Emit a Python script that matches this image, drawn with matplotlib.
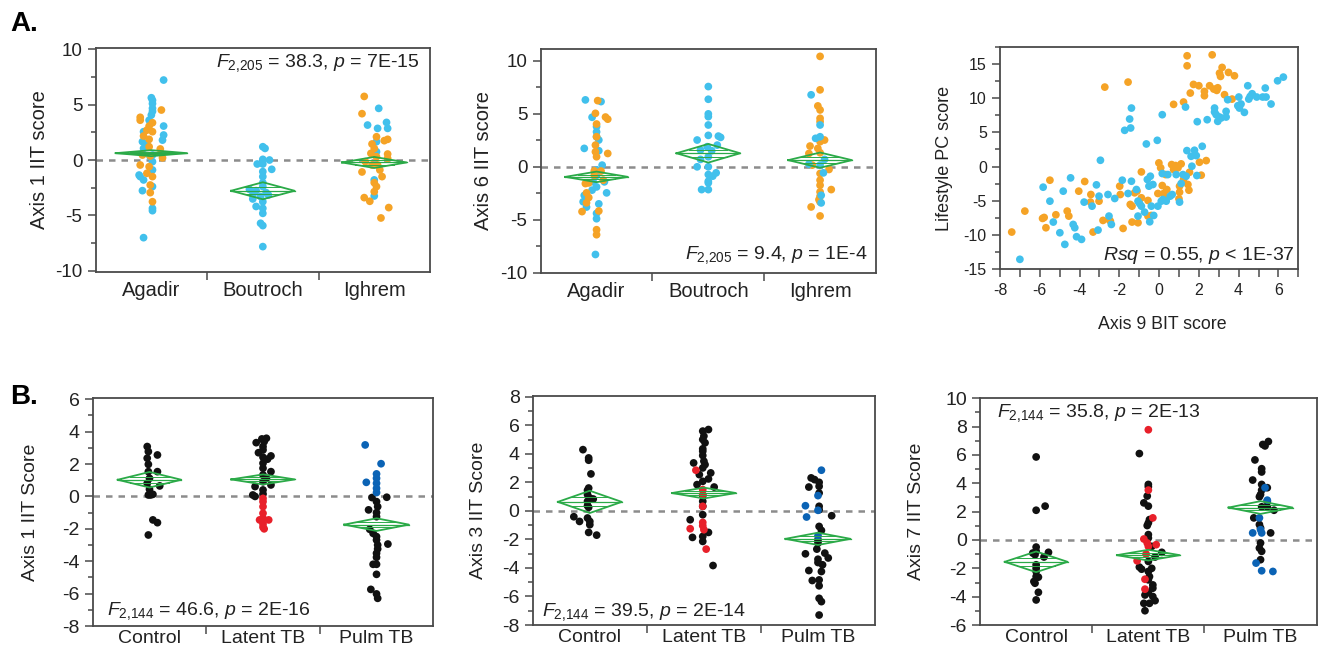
import matplotlib
matplotlib.use("Agg")
import matplotlib.pyplot as plt
from matplotlib.ticker import MultipleLocator, FixedLocator

plt.rcParams['font.family'] = ['Liberation Sans', 'DejaVu Sans']
plt.rcParams['mathtext.fontset'] = 'custom'
plt.rcParams['mathtext.rm'] = 'Liberation Sans'
plt.rcParams['mathtext.it'] = 'Liberation Sans:italic'
plt.rcParams['axes.unicode_minus'] = False

CYAN = '#41C0EC'
ORANGE = '#F5A326'
BLACK = '#111111'
RED = '#E8202A'
BLUE = '#0B63B5'
GREEN = '#2BAA48'
SPINE = '#4a4a4a'
TXT = '#222222'

# ---------------- data (offset from group centre, value) ----------------
SITES = ['Agadir', 'Boutroch', 'Ighrem']
TB_GROUPS = ['Control', 'Latent TB', 'Pulm TB']

# A1: Axis 1 IIT score
A1_AGADIR_CYAN = [(0.11, 7.23), (0, 5.63), (0.01, 5.1), (0.01, 4.67), (0, 4.07), (0.11, 3.07),
                  (0.11, 2.26), (0.1, 1.8), (-0.08, 1.66), (-0.04, 1.5), (-0.07, 1.05), (0.01, 0.45),
                  (-0.11, -1.36), (-0.1, -1.5), (-0.07, -1.8), (0.01, -0.9), (0.01, -2.4),
                  (-0.08, -2.77), (0.01, -4.37), (0.01, -4.58), (-0.07, -7.02), (0.01, -0.15),
                  (-0.01, 0.3), (-0.07, 2.56), (-0.02, 3.6), (0.01, 5.4), (0.01, 4.4)]
A1_AGADIR_ORANGE = [(0.09, 4.52), (-0.1, 3.86), (-0.1, 3.6), (-0.02, 3.07), (0.01, 3.37), (-0.04, 2.7),
                    (-0.07, 2.17), (0.01, 2.56), (-0.02, 1.87), (-0.02, 1.2), (0.08, 1.0), (-0.01, 0.36),
                    (-0.08, 0.45), (0.1, 0.2), (-0.1, -0.45), (-0.04, -1.2), (0.01, -1.5),
                    (-0.01, -2.26), (-0.01, -2.95), (0.01, -3.77), (-0.02, -0.6)]
A1_BOUTROCH_CYAN = [(0, 1.2), (0.02, 1.05), (0, 0.06), (0.06, 0.0), (-0.05, -0.36), (0, -0.36),
                    (0.08, -0.84), (0, -1.05), (0, -1.5), (0, -2.05), (0, -2.4), (-0.12, -2.65),
                    (-0.06, -2.77), (0.03, -2.95), (0.05, -3.16), (-0.09, -3.52), (0, -3.77),
                    (-0.06, -4.2), (0, -4.37), (0, -4.82), (-0.02, -5.72), (0, -5.93), (0, -7.83),
                    (-0.09, -3.16), (-0.02, -3.3)]
A1_IGHREM_ORANGE = [(-0.09, 5.75), (-0.11, 4.19), (0.02, 2.1), (0.09, 1.75), (0.12, 1.87), (-0.02, 1.45),
                    (0, 1.05), (-0.03, 0.6), (0.12, 0.54), (0.02, 0.3), (0.12, 0.15), (-0.08, -0.15),
                    (0.03, -0.45), (0.05, -0.9), (-0.11, -1.08), (0.07, -1.5), (0, -2.05),
                    (0.02, -2.4), (0, -2.86), (-0.09, -3.4), (-0.04, -3.73), (0.13, -4.3),
                    (0.06, -5.24), (-0.02, -0.45)]
A1_IGHREM_CYAN = [(0.04, 4.67), (-0.06, 3.16), (0.03, 2.86), (0.11, 3.4), (0.12, 2.86), (0.02, 1.66),
                  (0, -1.8), (0, -3.25), (0.02, 0.75)]
A1_MEANS = [0.62, -2.78, -0.22]
A1_CI = [0.27, 0.77, 0.5]
A1_HALFW = [0.32, 0.285, 0.29]

# A2: Axis 6 IIT score
A2_AGADIR_CYAN = [(-0.1, 6.32), (0.04, 6.16), (-0.04, 4.68), (-0.11, 1.74), (0, 3.8), (0, 3.3),
                  (0, 2.84), (0.02, 2.53), (0.02, 1.52), (0.05, 0.16), (0, -0.3), (0, -0.8),
                  (-0.03, -1.42), (0, -1.9), (0.07, -1.42), (0.09, -2.46), (-0.11, -2.7),
                  (-0.12, -3.3), (-0.09, -3.8), (0.02, -3.5), (0, -4.4), (0, -4.9), (-0.01, -8.28),
                  (-0.04, -2.2)]
A2_AGADIR_ORANGE = [(0.01, 6.25), (-0.01, 5.05), (0.08, 4.7), (0.1, 4.5), (0, 4.04), (0, 2.84),
                    (-0.01, 2.05), (0.1, 1.26), (-0.01, 1.42), (0, 0.95), (-0.02, -0.38), (0.04, -0.4),
                    (-0.1, -1.58), (-0.07, -1.52), (0.06, -1.26), (-0.09, -2.46), (-0.07, -2.9),
                    (-0.09, -3.4), (0.02, -4.17), (-0.13, -4.23), (0, -5.94), (0, -6.41),
                    (-0.02, -0.8)]
A2_BOUTROCH_CYAN = [(0, 7.58), (0, 6.38), (0, 5.0), (0, 4.74), (0, 3.95), (0, 2.97), (0.09, 2.9),
                    (0.11, 2.78), (-0.1, 2.53), (0.08, 2.05), (-0.01, 1.9), (-0.07, 1.58), (0.03, 1.52),
                    (-0.07, 0.7), (0, 0.95), (-0.1, 0), (0, 0), (0.07, -0.57), (0.04, -0.88),
                    (0, -0.73), (0, -1.36), (0, -1.52), (-0.06, -2.15), (0, -2.15)]
A2_IGHREM_ORANGE = [(0, 10.43), (0, 7.27), (-0.02, 5.75), (0, 5.37), (0, 4.58), (0, 4.27), (0.04, 2.53),
                    (0, 2.37), (-0.09, 1.96), (-0.1, 1.26), (-0.02, 1.74), (0, 1.33), (-0.07, 0.16),
                    (0.08, -0.25), (0, -0.63), (0, -1.26), (0, -1.74), (0, -2.37), (0.1, -2.15),
                    (0, -2.78), (-0.01, -3.1), (0, -3.32), (-0.08, -3.79), (0, -4.64)]
A2_IGHREM_CYAN = [(-0.08, 6.8), (0, 3.95), (-0.04, 2.69), (0, 2.84), (-0.1, 0.25), (0, 0.16),
                  (0.04, 0.7), (0.03, -0.57), (0.01, -2.69), (0.01, -3.41)]
A2_MEANS = [-0.95, 1.28, 0.63]
A2_CI = [0.5, 0.88, 0.72]
A2_HALFW = [0.28, 0.285, 0.285]

# A3: Axis 9 BIT score vs Lifestyle PC score
A3_ORANGE_X = [-7.41, -6.75, -5.86, -5.78, -5.69, -5.49, -5.19, -4.62, -4.54, -4.04, -3.74, -3.45,
               -3.43, -3.32, -3.02, -2.82, -2.73, -2.52, -2.45, -1.98, -1.95, -1.81, -1.56, -1.45,
               -1.36, -1.36, -1.23, -1.11, -1.06, -0.89, -0.89, -0.56, -0.56, -0.39, -0.06, -0.01,
               0.08, 0.16, 0.23, 0.29, 0.39, 0.33, 0.63, 0.73, 0.73, 0.83, 0.95, 1.03, 1.03, 1.0,
               1.11, 1.23, 1.23, 1.41, 1.41, 1.45, 1.5, 1.53, 1.57, 1.73, 2.0, 2.03, 2.12, 2.28,
               2.28, 2.37, 2.54, 2.67, 2.75, 2.9, 3.04, 3.09, 3.17, 3.29, 3.49, 3.67, 3.79, 2.95]
A3_ORANGE_Y = [-9.56, -6.5, -7.57, -7.43, -8.93, -1.99, -7.04, -6.5, -7.23, -3.59, -2.18, -5.19,
               -4.08, -9.56, -5.05, -7.86, 11.6, -7.72, -7.96, -2.86, -4.08, -9.03, 12.33, -5.53,
               -5.78, -8.1, -3.83, -3.59, -8.2, -0.78, -4.56, -4.95, -7.23, -7.14, -3.93, 0.53,
               -0.19, -2.77, -3.93, -4.32, -3.35, -1.17, 0.29, -0.44, 9.08, 0.15, -0.19, -2.86,
               -3.74, -4.71, 0.39, 9.42, -1.89, 16.17, 14.71, -2.62, -3.45, -0.83, 10.73, 11.99,
               11.8, 0.63, -1.26, 10.97, 10.34, 0.87, 11.8, 16.31, 11.31, 11.12, 13.64, 13.16,
               14.47, 10.49, 13.74, 9.85, 13.25, 11.5]
A3_CYAN_X = [-7.0, -5.83, -5.49, -5.32, -4.99, -4.82, -4.74, -4.45, -4.32, -4.24, -4.15, -3.9, -3.77,
             -3.37, -3.15, -3.07, -3.02, -2.95, -2.57, -2.52, -2.4, -2.23, -1.85, -1.73, -1.56,
             -1.48, -1.43, -1.39, -1.39, -1.14, -1.06, -1.06, -0.98, -0.89, -0.73, -0.64, -0.59,
             -0.51, -0.44, -0.47, -0.39, -0.31, -0.27, -0.09, -0.06, 0.11, 0.16, 0.16, 0.19, 0.36,
             0.44, 0.56, 0.66, 0.86, 1.03, 1.11, 1.2, 1.33, 1.36, 1.4, 1.61, 1.65, 1.78, 1.87, 1.9,
             1.92, 2.17, 2.42, 2.79, 2.79, 2.87, 2.95, 3.04, 3.12, 3.37, 3.37, 3.45, 3.96, 4.01,
             4.04, 4.12, 4.29, 4.46, 4.51, 4.58, 4.68, 4.91, 5.21, 5.38, 5.34, 5.63, 5.96, 6.25]
A3_CYAN_Y = [-13.54, -3.01, -5.05, -8.1, -9.66, -3.59, -11.36, -1.65, -8.45, -8.93, -10.24, -10.63,
             -5.19, -5.78, -2.67, -9.27, -4.32, 0.92, -4.08, -7.23, -8.45, -4.66, -1.99, 5.29,
             -3.93, 6.94, 5.63, 8.54, -2.14, -3.35, -5.05, -7.23, -5.39, -5.78, -6.65, 3.3, -1.89,
             -2.86, -1.41, -8.06, -5.78, -2.62, -7.14, 3.83, -5.78, -5.05, 7.57, -1.02, -4.81,
             -5.05, -1.17, -4.32, -4.08, -1.17, -5.19, -2.48, -1.17, 8.69, -1.41, 2.33, 1.5, 0.05,
             2.38, 1.6, -1.31, 6.55, 2.96, 6.84, 8.54, 7.96, 7.57, 6.6, 7.23, 7.09, 8.06, 7.23,
             9.76, 8.88, 10.15, 8.54, 9.13, 7.91, 11.8, 9.85, 10.24, 10.63, 10.15, 10.15, 10.15,
             11.46, 9.13, 12.52, 13.06]

# B1: Axis 1 IIT Score
B1_CONTROL_BLACK = [(-0.02, 3.08), (-0.01, 2.77), (-0.02, 2.36), (0.07, 2.56), (-0.01, 1.98),
                    (-0.01, 1.53), (0.07, 1.53), (0, 1.12), (-0.02, 0.81), (0.09, 0.65), (0, 0.44),
                    (-0.01, 0.09), (0.01, 0.09), (0.03, 0.13), (0.03, -1.45), (0.07, -1.62),
                    (-0.01, -2.38)]
B1_LATENT_BLACK = [(-0.06, 3.32), (-0.01, 3.55), (0.03, 3.59), (0.01, 3.38), (0, 3.08), (0, 2.87),
                   (-0.04, 2.7), (0.07, 2.5), (0, 2.42), (0.04, 2.3), (0, 2.05), (0, 1.74), (0.07, 1.53),
                   (0, 1.33), (0.03, 1.12), (0, 0.91), (0.07, 0.71), (-0.07, 0.61), (0, 0.4),
                   (-0.09, 0.09), (-0.07, 0.0), (0, 0.15)]
B1_LATENT_RED = [(0, -0.12), (0, -0.32), (0, -0.63), (0, -1.04), (0, -1.35), (0.05, -1.45),
                 (-0.03, -1.45), (0, -1.7), (0, -1.9), (0.01, -2.0)]
B1_PULM_BLUE = [(-0.1, 3.18), (0.04, 2.02), (-0.09, 0.87), (0, 1.39), (0, 1.12), (0, 0.81), (0, 0.5),
                (0, 0.24)]
B1_PULM_BLACK = [(-0.04, -0.07), (0.09, -0.05), (0, -0.32), (0.01, -0.63), (-0.07, -0.83), (0, -1.0),
                 (0, -1.25), (-0.06, -2.03), (-0.03, -2.28), (0, -2.48), (0, -2.69), (0.01, -3.0),
                 (0.1, -2.94), (0.01, -3.24), (0, -3.51), (0, -3.76), (-0.03, -4.19), (0, -4.19),
                 (0, -4.81), (-0.05, -5.74), (0, -6.02), (0.01, -6.29)]
B1_MEANS = [1.03, 1.05, -1.74]
B1_CI = [0.48, 0.31, 0.39]

# B2: Axis 3 IIT Score
B2_CONTROL_BLACK = [(-0.06, 4.29), (-0.01, 3.71), (-0.01, 3.55), (0.01, 2.59), (-0.01, 1.6),
                    (-0.02, 1.44), (-0.02, 1.14), (0, 0.9), (0.03, 0.83), (-0.02, 0.67), (-0.02, 0.36),
                    (-0.01, 0.25), (-0.14, -0.41), (-0.09, -0.74), (-0.02, -0.5), (0, -0.74),
                    (0, -0.97), (-0.01, -1.51), (0.06, -1.7)]
B2_LATENT_BLACK = [(0.04, 5.7), (-0.01, 5.59), (0, 5.24), (-0.01, 5.0), (0.01, 4.77), (-0.01, 4.35),
                   (-0.01, 4.18), (-0.01, 3.88), (-0.09, 3.36), (0, 3.48), (0.01, 3.24), (-0.01, 3.01),
                   (0.06, 2.66), (-0.04, 2.54), (0.04, 2.24), (-0.01, 2.07), (-0.06, 1.84),
                   (0.09, 1.67), (-0.01, 1.07), (-0.01, 0.67), (-0.01, 0.32), (-0.01, -0.27),
                   (-0.12, -0.62), (0.04, -1.51), (-0.01, -1.79), (-0.1, -1.86), (-0.01, -2.14),
                   (0.08, -3.83)]
B2_LATENT_RED = [(-0.07, 2.85), (-0.01, 1.49), (-0.01, 1.14), (-0.01, 0.32), (-0.01, -0.81),
                 (-0.01, -1.04), (0, -1.32), (-0.12, -1.25), (0.02, -2.68)]
B2_PULM_BLACK = [(-0.06, 2.31), (-0.03, 2.19), (0.01, 2.0), (0.01, 1.72), (-0.08, 1.67), (0.01, 1.25),
                 (0.01, 0.32), (0.01, 0.08), (0.12, -0.34), (0.01, -1.09), (0.03, -1.37), (0, -2.03),
                 (0, -2.26), (-0.01, -2.68), (0.06, -2.96), (-0.11, -3.01), (0, -3.39), (0, -3.62),
                 (0.04, -3.78), (0.03, -4.25), (-0.08, -4.18), (0.01, -4.84), (-0.05, -4.88),
                 (0.01, -5.25), (0.01, -6.13), (0.03, -6.36), (0.01, -7.3), (0.09, -3.3)]
B2_PULM_BLUE = [(0.03, 2.85), (-0.11, 0.36), (-0.1, -0.43), (0, 1.07), (0, 0.04), (0, -1.75)]
B2_MEANS = [0.63, 1.25, -1.96]
B2_CI = [0.78, 0.38, 0.43]

# B3: Axis 7 IIT Score
B3_CONTROL_BLACK = [(0, 5.86), (0, 2.1), (0.08, 2.39), (0, -0.5), (0, -0.8), (-0.01, -1.04),
                    (-0.03, -0.92), (0.11, -0.87), (0.07, -1.2), (0, -1.75), (0, -1.99), (0, -2.22),
                    (0, -2.58), (0.02, -2.62), (-0.02, -2.93), (-0.01, -3.05), (0.02, -3.69),
                    (0, -4.23)]
B3_LATENT_BLACK = [(-0.08, 6.1), (0, 3.92), (0, 3.76), (-0.01, 3.1), (-0.04, 2.62), (0, 2.39),
                   (0.01, 1.44), (0, 1.2), (-0.01, 1.02), (0, 0.38), (0, 0.14), (0.03, -0.45),
                   (0.12, -0.87), (0.06, -1.2), (0, -1.51), (-0.08, -1.91), (-0.06, -2.06), (0, -2.22),
                   (0.03, -2.0), (0.01, -2.58), (0, -2.81), (0.04, -3.17), (0.04, -3.4), (0, -3.71),
                   (-0.03, -3.88), (0.04, -3.99), (0.06, -4.28), (-0.04, -4.47), (-0.03, -4.99),
                   (0.01, -4.47)]
B3_LATENT_RED = [(0, 7.78), (0, 3.52), (0.04, 1.56), (-0.04, 0.07), (-0.01, -0.21), (0.07, -0.33),
                 (0, -0.45), (-0.02, -0.99), (-0.1, -1.47), (-0.03, -2.77), (-0.03, -3.47)]
B3_PULM_BLACK = [(0.07, 6.95), (0.02, 6.74), (0.04, 6.64), (-0.05, 5.65), (0.01, 5.03), (0.01, 4.8),
                 (-0.07, 4.23), (0.01, 3.92), (0.06, 3.69), (0.01, 3.52), (0, 3.21), (-0.01, 3.05),
                 (0.06, 2.74), (0.01, 2.34), (0.06, 2.34), (0.12, 2.1), (-0.06, 1.56), (-0.01, 1.09),
                 (0, 0.85), (0.09, 0.5), (0, -0.21), (-0.01, -0.57), (0.01, -0.8), (0, -1.39)]
B3_PULM_BLUE = [(0.04, 3.69), (0.06, 2.81), (-0.01, 1.56), (0, 0.73), (-0.07, 0.5), (0.01, 0.5),
                (-0.04, -1.63), (0.01, -2.17), (0.11, -2.22)]
B3_MEANS = [-1.54, -1.07, 2.29]
B3_CI = [0.73, 0.38, 0.45]
B_HALFW = [0.28, 0.28, 0.285]

DOT = 31


def draw_group(ax, pos, pts, color):
    ax.scatter([pos + o for o, v in pts], [v for o, v in pts], s=DOT, color=color,
               edgecolors='none', zorder=3)


def diamonds(ax, means, ci, halfw):
    for i, (m, h, w) in enumerate(zip(means, ci, halfw)):
        x = i + 1
        ax.plot([x - w, x, x + w, x, x - w], [m, m + h, m, m - h, m], color=GREEN, lw=1.3, zorder=4)
        ax.plot([x - w, x + w], [m, m], color=GREEN, lw=0.9, zorder=4)
        for s in (1, -1):
            ax.plot([x - 0.6 * w, x + 0.6 * w], [m + s * 0.4 * h] * 2, color=GREEN, lw=0.7, zorder=4)


def frame(ax):
    for sp in ax.spines.values():
        sp.set_color(SPINE)
        sp.set_linewidth(1.3)
    ax.tick_params(which='both', color=SPINE, width=1.1, labelcolor=TXT)


def stat_label(f, df, p, comp='='):
    # F statistic with small subscript degrees of freedom
    return r'$F_{\mathregular{' + df + '}}$ = ' + f + r', $p$ ' + comp + ' ' + p


def cat_axis(ax, labels, ylim, minor, ylabel, fs_tick, fs_lab, xlab, pad=7):
    ax.set_xlim(0.5, 3.5)
    ax.set_ylim(*ylim)
    ax.set_xticks([1, 2, 3])
    ax.set_xticklabels(labels, fontsize=fs_lab)
    ax.xaxis.set_minor_locator(FixedLocator([1.5, 2.5]))
    ax.tick_params(axis='x', which='major', length=0, pad=pad)
    ax.tick_params(axis='x', which='minor', length=6)
    ax.yaxis.set_minor_locator(MultipleLocator(minor))
    ax.tick_params(axis='y', which='major', length=6, labelsize=fs_tick)
    ax.tick_params(axis='y', which='minor', length=3.5)
    ax.set_ylabel(ylabel, fontsize=fs_lab, color=TXT)
    ax.yaxis.set_label_coords(xlab, 0.5)
    ax.axhline(0, color='#8c8c8c', lw=1.8, ls=(0, (2.6, 2.4)), zorder=1)
    frame(ax)


fig = plt.figure(figsize=(13.21, 6.51), dpi=100)

# ---- A1 ----
ax = fig.add_axes([0.0724, 0.5826, 0.2531, 0.3432])
draw_group(ax, 1, A1_AGADIR_CYAN, CYAN)
draw_group(ax, 1, A1_AGADIR_ORANGE, ORANGE)
draw_group(ax, 2, A1_BOUTROCH_CYAN, CYAN)
draw_group(ax, 3, A1_IGHREM_CYAN, CYAN)
draw_group(ax, 3, A1_IGHREM_ORANGE, ORANGE)
diamonds(ax, A1_MEANS, A1_CI, A1_HALFW)
ax.set_yticks([-10, -5, 0, 5, 10])
cat_axis(ax, SITES, (-10.1, 10.1), 2.5, 'Axis 1 IIT score', 13.5, 14.5, -0.14)
ax.text(0.97, 0.935, stat_label('38.3', '2{,}205', '7E-15'), transform=ax.transAxes,
        ha='right', va='center', fontsize=14, color=TXT)

# ---- A2 ----
ax = fig.add_axes([0.4093, 0.5811, 0.2538, 0.3432])
draw_group(ax, 1, A2_AGADIR_CYAN, CYAN)
draw_group(ax, 1, A2_AGADIR_ORANGE, ORANGE)
draw_group(ax, 2, A2_BOUTROCH_CYAN, CYAN)
draw_group(ax, 3, A2_IGHREM_ORANGE, ORANGE)
draw_group(ax, 3, A2_IGHREM_CYAN, CYAN)
diamonds(ax, A2_MEANS, A2_CI, A2_HALFW)
ax.set_yticks([-10, -5, 0, 5, 10])
cat_axis(ax, SITES, (-10, 11.1), 2.5, 'Axis 6 IIT score', 13.5, 14.5, -0.142)
ax.text(0.975, 0.08, stat_label('9.4', '2{,}205', '1E-4'), transform=ax.transAxes,
        ha='right', va='center', fontsize=14, color=TXT)

# ---- A3 ----
ax = fig.add_axes([0.757, 0.5863, 0.2258, 0.342])
ax.scatter(A3_ORANGE_X, A3_ORANGE_Y, s=DOT, color=ORANGE, edgecolors='none', zorder=3)
ax.scatter(A3_CYAN_X, A3_CYAN_Y, s=DOT, color=CYAN, edgecolors='none', zorder=3)
ax.set_xlim(-8, 7)
ax.set_ylim(-15, 17.5)
ax.set_xticks([-8, -6, -4, -2, 0, 2, 4, 6])
ax.set_yticks([-15, -10, -5, 0, 5, 10, 15])
ax.xaxis.set_minor_locator(MultipleLocator(1))
ax.yaxis.set_minor_locator(MultipleLocator(2.5))
ax.tick_params(which='both', labelsize=11.5)
ax.tick_params(axis='x', which='both', length=6)
ax.tick_params(axis='y', which='major', length=6)
ax.tick_params(axis='y', which='minor', length=3.5)
ax.set_xlabel('Axis 9 BIT score', fontsize=12.8, color=TXT)
ax.xaxis.set_label_coords(0.545, -0.208)
ax.set_ylabel('Lifestyle PC score', fontsize=13, color=TXT)
ax.yaxis.set_label_coords(-0.158, 0.5)
frame(ax)
ax.text(0.99, 0.064, r'$Rsq$ = 0.55, $p$ < 1E-37', transform=ax.transAxes,
        ha='right', va='center', fontsize=14, color=TXT)

# ---- B1 ----
ax = fig.add_axes([0.0702, 0.0384, 0.2578, 0.3498])
draw_group(ax, 1, B1_CONTROL_BLACK, BLACK)
draw_group(ax, 2, B1_LATENT_BLACK, BLACK)
draw_group(ax, 2, B1_LATENT_RED, RED)
draw_group(ax, 3, B1_PULM_BLACK, BLACK)
draw_group(ax, 3, B1_PULM_BLUE, BLUE)
diamonds(ax, B1_MEANS, B1_CI, B_HALFW)
ax.set_yticks(range(-8, 7, 2))
cat_axis(ax, TB_GROUPS, (-8, 6.06), 1, 'Axis 1 IIT Score', 14, 14, -0.158, pad=3)
ax.text(0.042, 0.066, stat_label('46.6', '2{,}144', '2E-16'), transform=ax.transAxes,
        ha='left', va='center', fontsize=14, color=TXT)

# ---- B2 ----
ax = fig.add_axes([0.4033, 0.0399, 0.2591, 0.3518])
draw_group(ax, 1, B2_CONTROL_BLACK, BLACK)
draw_group(ax, 2, B2_LATENT_BLACK, BLACK)
draw_group(ax, 2, B2_LATENT_RED, RED)
draw_group(ax, 3, B2_PULM_BLACK, BLACK)
draw_group(ax, 3, B2_PULM_BLUE, BLUE)
diamonds(ax, B2_MEANS, B2_CI, B_HALFW)
ax.set_yticks(range(-8, 9, 2))
cat_axis(ax, TB_GROUPS, (-8, 8.05), 1, 'Axis 3 IIT Score', 14, 14, -0.133, pad=3)
ax.text(0.026, 0.058, stat_label('39.5', '2{,}144', '2E-14'), transform=ax.transAxes,
        ha='left', va='center', fontsize=14, color=TXT)

# ---- B3 ----
ax = fig.add_axes([0.7419, 0.0399, 0.2548, 0.3483])
draw_group(ax, 1, B3_CONTROL_BLACK, BLACK)
draw_group(ax, 2, B3_LATENT_BLACK, BLACK)
draw_group(ax, 2, B3_LATENT_RED, RED)
draw_group(ax, 3, B3_PULM_BLACK, BLACK)
draw_group(ax, 3, B3_PULM_BLUE, BLUE)
diamonds(ax, B3_MEANS, B3_CI, B_HALFW)
ax.set_yticks(range(-6, 11, 2))
cat_axis(ax, TB_GROUPS, (-6, 10), 1, 'Axis 7 IIT Score', 14, 14, -0.163, pad=3)
ax.text(0.05, 0.934, stat_label('35.8', '2{,}144', '2E-13'), transform=ax.transAxes,
        ha='left', va='center', fontsize=14, color=TXT)

fig.text(0.008, 0.963, 'A.', fontsize=20, fontweight='bold', va='center', ha='left')
fig.text(0.008, 0.39, 'B.', fontsize=20, fontweight='bold', va='center', ha='left')

fig.savefig('out.png', dpi=100)
